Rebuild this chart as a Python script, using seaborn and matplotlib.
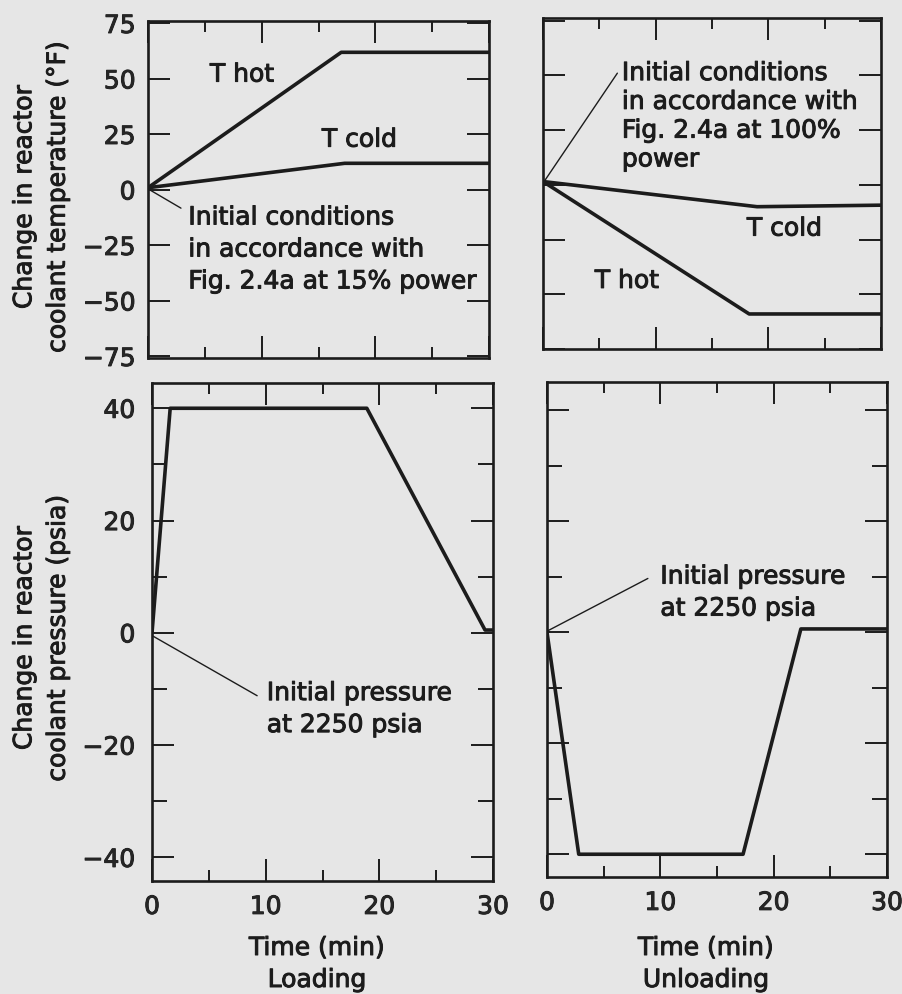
import matplotlib
matplotlib.use("Agg")
import matplotlib.pyplot as plt
import matplotlib.patheffects as pe
import seaborn as sns
import pandas as pd

# ---- data ----
load_hot_t = [0, 17.0, 30]
load_hot_v = [1, 62, 62]
load_cold_t = [0, 17.3, 30]
load_cold_v = [1, 12, 12]

unload_cold_t = [0, 19.0, 30]
unload_cold_v = [1.5, -10, -9.3]
unload_hot_t = [0, 18.3, 30]
unload_hot_v = [1.5, -59, -59]

load_p_t = [0, 1.6, 18.9, 29.3, 30]
load_p_v = [0, 40, 40, 0.5, 0.5]
unload_p_t = [0, 2.8, 17.3, 22.4, 30]
unload_p_v = [0, -40, -40, 0.6, 0.6]

temp_ticks = [-75, -50, -25, 0, 25, 50, 75]
pres_ticks = [-40, -20, 0, 20, 40]
pres_minor = [-30, -10, 10, 30]
time_ticks = [0, 10, 20, 30]
time_minor = [5, 15, 25]

BG = "#e6e6e6"
INK = "#1c1c1c"
HEAVY = [pe.withStroke(linewidth=0.7, foreground=INK)]

sns.set_style("ticks")
plt.rcParams["font.family"] = ["DejaVu Sans"]
plt.rcParams["axes.edgecolor"] = INK
plt.rcParams["text.color"] = INK

fig = plt.figure(figsize=(9.03, 9.94), dpi=100, facecolor=BG)
W, H = 903, 994

def add_ax(x0, y0, x1, y1):
    return fig.add_axes([x0 / W, 1 - y1 / H, (x1 - x0) / W, (y1 - y0) / H])

ax_tl = add_ax(148, 21, 489, 358)
ax_tr = add_ax(543, 18, 881, 349)
ax_bl = add_ax(152, 383, 493, 881)
ax_br = add_ax(547, 382, 887, 877)

def line(ax, t, v):
    df = pd.DataFrame({"t": t, "v": v})
    sns.lineplot(data=df, x="t", y="v", ax=ax, color=INK, lw=2.6, sort=False,
                 estimator=None)

line(ax_tl, load_hot_t, load_hot_v)
line(ax_tl, load_cold_t, load_cold_v)
line(ax_tr, unload_cold_t, unload_cold_v)
line(ax_tr, unload_hot_t, unload_hot_v)
line(ax_bl, load_p_t, load_p_v)
line(ax_br, unload_p_t, unload_p_v)

def style(ax, top, left, ylim, ypad):
    ax.set_facecolor(BG)
    ax.set_xlim(0, 30)
    ax.set_ylim(*ylim)
    for s in ax.spines.values():
        s.set_linewidth(1.9)
        s.set_color(INK)
        s.set_visible(True)
    ax.set_xticks(time_ticks)
    ax.set_xticks(time_minor, minor=True)
    if top:
        ax.set_yticks(temp_ticks)
        ax.tick_params(axis="y", which="major", length=16)
    else:
        ax.set_yticks(pres_ticks)
        ax.set_yticks(pres_minor, minor=True)
        ax.tick_params(axis="y", which="major", length=16)
        ax.tick_params(axis="y", which="minor", length=11)
    ax.tick_params(axis="x", which="major", length=16, pad=10)
    ax.tick_params(axis="x", which="minor", length=8)
    ax.tick_params(axis="y", which="major", pad=ypad)
    ax.tick_params(which="both", direction="in", top=True, right=True,
                   bottom=True, left=True, width=1.4, color=INK,
                   labelbottom=not top, labelleft=left, labelsize=18)
    for lab in ax.get_xticklabels() + ax.get_yticklabels():
        lab.set_path_effects(HEAVY)
    ax.set_xlabel("")
    ax.set_ylabel("")

style(ax_tl, True, True, (-75.7, 76.1), 9)
style(ax_tr, True, False, (-72, 76.2), 9)
style(ax_bl, False, True, (-44.2, 44.5), 12)
style(ax_br, False, False, (-44.1, 45.1), 12)

TXT = dict(fontsize=18, color=INK, path_effects=HEAVY)

# top-left annotations
ax_tl.text(5.45, 48.8, "T hot", ha="left", va="baseline", **TXT)
ax_tl.text(15.3, 19.5, "T cold", ha="left", va="baseline", **TXT)
ax_tl.text(3.55, -7.0, "Initial conditions\nin accordance with\nFig. 2.4a at 15% power",
           ha="left", va="top", linespacing=1.42, **TXT)
ax_tl.plot([0.1, 2.9], [0.2, -8.2], color=INK, lw=1.0)

# top-right annotations
ax_tr.text(7.0, 56.5, "Initial conditions\nin accordance with\nFig. 2.4a at 100%\npower",
           ha="left", va="top", linespacing=1.25, **TXT)
ax_tr.plot([0.1, 6.6], [1.5, 51.0], color=INK, lw=1.0)
ax_tr.text(18.1, -23.2, "T cold", ha="left", va="baseline", **TXT)
ax_tr.text(4.6, -47.1, "T hot", ha="left", va="baseline", **TXT)

# bottom-left annotation
ax_bl.text(10.1, -8.6, "Initial pressure\nat 2250 psia", ha="left", va="top",
           linespacing=1.42, **TXT)
ax_bl.plot([0.1, 9.25], [-0.6, -11.2], color=INK, lw=1.0)

# bottom-right annotation
ax_br.text(10.0, 12.2, "Initial pressure\nat 2250 psia", ha="left", va="top",
           linespacing=1.42, **TXT)
ax_br.plot([0.1, 8.9], [0.3, 9.7], color=INK, lw=1.0)

# axis titles
fig.text(41 / W, 1 - 197 / H, "Change in reactor\ncoolant temperature (°F)",
         rotation=90, ha="center", va="center", linespacing=1.5, **TXT)
fig.text(41 / W, 1 - 638 / H, "Change in reactor\ncoolant pressure (psia)",
         rotation=90, ha="center", va="center", linespacing=1.5, **TXT)
for xc, sub in [(317, "Loading"), (706, "Unloading")]:
    fig.text(xc / W, 1 - 955 / H, "Time (min)", ha="center", va="baseline", **TXT)
    fig.text(xc / W, 1 - 987 / H, sub, ha="center", va="baseline", **TXT)

fig.savefig("out.png", dpi=100, facecolor=BG)
